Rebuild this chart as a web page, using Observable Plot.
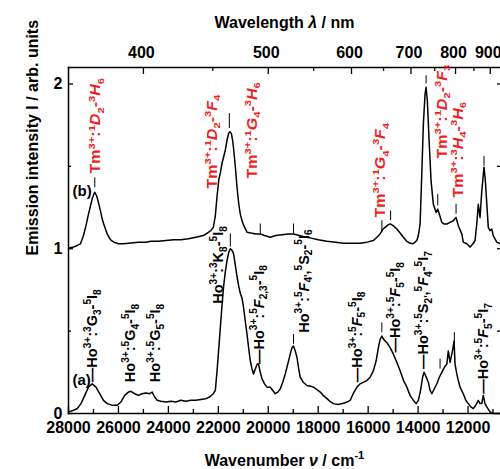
<!DOCTYPE html>
<html>
<head>
<meta charset="utf-8">
<script src="https://cdn.jsdelivr.net/npm/d3@7"></script>
<script src="https://cdn.jsdelivr.net/npm/@observablehq/plot@0.6"></script>
<style>
  html, body { margin: 0; padding: 0; background: #fff; overflow: hidden; }
  #chart { width: 500px; height: 469px; overflow: hidden; }
</style>
</head>
<body>
<div id="chart"></div>
<script>
// Spectrum (a): Ho3+ emission, [wavenumber cm-1, intensity]
const seriesA = [
  [28000,0.01],[27800,0.02],[27650,0.03],[27500,0.06],[27350,0.11],[27200,0.16],[27050,0.18],
  [26900,0.16],[26750,0.12],[26600,0.08],[26450,0.06],[26250,0.05],[26050,0.05],[25900,0.07],
  [25750,0.11],[25600,0.13],[25500,0.135],[25350,0.12],[25200,0.11],[25050,0.12],[24900,0.125],
  [24750,0.12],[24650,0.13],[24550,0.10],[24450,0.08],[24300,0.075],[24100,0.07],[23900,0.075],
  [23700,0.07],[23500,0.08],[23300,0.075],[23100,0.08],[22900,0.08],[22700,0.085],[22500,0.09],
  [22350,0.10],[22200,0.12],[22120,0.14],[22050,0.26],[21980,0.40],[21920,0.52],[21850,0.66],
  [21790,0.77],[21720,0.86],[21650,0.93],[21580,0.98],[21520,1.00],[21450,0.99],[21390,0.97],
  [21320,0.90],[21250,0.83],[21180,0.77],[21120,0.73],[21050,0.70],[20990,0.645],[20920,0.56],
  [20850,0.48],[20780,0.39],[20720,0.32],[20650,0.27],[20590,0.24],[20520,0.27],[20440,0.30],
  [20390,0.30],[20320,0.25],[20250,0.21],[20150,0.18],[20050,0.16],[19920,0.16],[19820,0.14],
  [19720,0.12],[19620,0.13],[19520,0.15],[19420,0.19],[19320,0.24],[19220,0.30],[19120,0.36],
  [19050,0.40],[18990,0.41],[18920,0.38],[18850,0.34],[18780,0.27],[18720,0.22],[18600,0.19],
  [18450,0.17],[18300,0.165],[18190,0.16],[18050,0.145],[17920,0.13],[17800,0.11],[17650,0.09],
  [17500,0.07],[17390,0.06],[17200,0.055],[16990,0.062],[16850,0.07],[16720,0.08],[16600,0.12],
  [16450,0.16],[16320,0.18],[16180,0.19],[16050,0.20],[15920,0.22],[15790,0.26],[15680,0.32],
  [15590,0.40],[15520,0.45],[15450,0.47],[15380,0.45],[15250,0.43],[15120,0.40],[14990,0.36],
  [14850,0.31],[14720,0.26],[14580,0.20],[14450,0.16],[14320,0.11],[14190,0.08],[14080,0.06],
  [13990,0.08],[13900,0.14],[13820,0.22],[13760,0.25],[13700,0.23],[13590,0.19],[13520,0.14],
  [13450,0.12],[13350,0.15],[13250,0.18],[13150,0.22],[13050,0.25],[12950,0.28],[12850,0.30],
  [12790,0.38],[12720,0.31],[12650,0.36],[12600,0.40],[12560,0.44],[12520,0.30],[12450,0.24],
  [12390,0.20],[12320,0.16],[12190,0.12],[12090,0.08],[11990,0.06],[11890,0.04],[11790,0.03],
  [11690,0.05],[11590,0.08],[11520,0.06],[11450,0.06],[11390,0.11],[11320,0.06],[11250,0.04],
  [11120,0.01],[11000,0.0],[10850,0.0],[10700,0.0]
];

// Spectrum (b): Tm3+ emission, offset by 1, [wavenumber cm-1, intensity]
const seriesB = [
  [28000,1.005],[27800,1.01],[27650,1.02],[27520,1.03],[27400,1.08],[27300,1.14],[27200,1.21],
  [27120,1.26],[27040,1.31],[26950,1.343],[26870,1.32],[26800,1.28],[26720,1.23],[26650,1.18],
  [26590,1.15],[26450,1.09],[26320,1.055],[26190,1.04],[26000,1.03],[25800,1.03],[25500,1.035],
  [25200,1.04],[24900,1.04],[24700,1.045],[24400,1.045],[24100,1.05],[23800,1.055],[23500,1.055],
  [23200,1.06],[22900,1.07],[22600,1.08],[22400,1.10],[22300,1.11],[22200,1.13],[22120,1.20],
  [22050,1.32],[21980,1.42],[21920,1.46],[21850,1.52],[21790,1.555],[21720,1.60],[21650,1.66],
  [21590,1.70],[21540,1.71],[21480,1.70],[21430,1.66],[21390,1.61],[21320,1.50],[21250,1.37],
  [21180,1.27],[21120,1.21],[21050,1.17],[20980,1.14],[20850,1.10],[20700,1.095],[20500,1.09],
  [20320,1.09],[20150,1.08],[19920,1.07],[19700,1.08],[19450,1.085],[19200,1.09],[18990,1.09],
  [18750,1.08],[18500,1.07],[18320,1.066],[18000,1.055],[17650,1.046],[17300,1.04],[16990,1.033],
  [16650,1.033],[16320,1.033],[16050,1.04],[15790,1.05],[15650,1.07],[15520,1.09],[15400,1.12],
  [15320,1.13],[15200,1.145],[15120,1.151],[15000,1.14],[14850,1.12],[14720,1.095],[14590,1.07],
  [14450,1.045],[14320,1.033],[14200,1.03],[14120,1.04],[14050,1.05],[13990,1.08],[13920,1.15],
  [13852,1.455],[13788,1.76],[13720,1.94],[13680,1.98],[13630,1.90],[13560,1.66],[13480,1.41],
  [13390,1.27],[13280,1.22],[13210,1.24],[13130,1.20],[13050,1.16],[12950,1.15],[12850,1.15],
  [12720,1.16],[12590,1.17],[12480,1.19],[12390,1.14],[12250,1.09],[12190,1.04],[12050,1.03],
  [11920,1.01],[11800,1.03],[11720,1.05],[11650,1.15],[11590,1.27],[11520,1.19],[11450,1.35],
  [11400,1.43],[11360,1.495],[11310,1.42],[11260,1.30],[11190,1.13],[11120,1.11],[11050,1.12],
  [10990,1.08],[10850,1.04],[10700,1.03]
];

// Red Tm3+ labels: markup text, wavenumber of baseline, intensity where text starts
const tmText = [
  "Tm^{3+}:^{1}*D*_{2}-^{3}*H*_{6}",
  "Tm^{3+}:^{1}*D*_{2}-^{3}*F*_{4}",
  "Tm^{3+}:^{1}*G*_{4}-^{3}*H*_{6}",
  "Tm^{3+}:^{1}*G*_{4}-^{3}*F*_{4}",
  "Tm^{3+}:^{1}*D*_{2}-^{3}*F*_{3}",
  "Tm^{3+}:^{3}*H*_{4}-^{3}*H*_{6}"
];
const tmNu = [26720, 22052, 20452, 15320, 12852, 12200];
const tmV  = [1.457, 1.366, 1.426, 1.19, 1.548, 1.311];

// Black Ho3+ labels
const hoText = [
  "—Ho^{3+}:^{3}G_{3}-^{5}I_{8}",
  "Ho^{3+}:^{5}G_{4}-^{5}I_{8}",
  "Ho^{3+}:^{5}G_{5}-^{5}I_{8}",
  "Ho^{3+}:^{3}K_{8}-^{5}I_{8}",
  "—Ho^{3+}:^{5}*F*_{2,3}-^{5}I_{8}",
  "Ho^{3+}:^{5}*F*_{4'},^{5}S_{2}-^{5}I_{6}",
  "—Ho^{3+}:^{5}*F*_{5}-^{5}I_{8}",
  "—Ho^{3+}:^{5}*F*_{5}-^{5}I_{8}",
  "—Ho^{3+}:^{5}S_{2'},^{5}*F*_{4}-^{5}I_{7}",
  "—Ho^{3+}:^{5}*F*_{5}-^{5}I_{7}"
];
const hoNu = [26852, 25320, 24320, 21800, 20188, 18388, 16252, 14720, 13588, 11188];
const hoV  = [0.19, 0.19, 0.19, 0.666, 0.30, 0.49, 0.19, 0.37, 0.27, 0.12];

// Short vertical peak markers: wavenumber, lower and upper intensity
const markNu = [26948, 21560, 20320, 18988, 15450, 15100, 13680, 13212, 12480, 11360,
                21520, 18988, 15452, 13120, 12548];
const markV1 = [1.37, 1.73, 1.09, 1.09, 1.10, 1.17, 2.00, 1.26, 1.21, 1.50,
                1.01, 0.42, 0.49, 0.27, 0.42];
const markV2 = [1.43, 1.82, 1.15, 1.15, 1.17, 1.23, 2.05, 1.33, 1.27, 1.56,
                1.09, 0.48, 0.55, 0.33, 0.49];

// Spectrum tags
const tagText = ["(a)", "(b)"];
const tagNu = [27840, 27840];
const tagV = [0.176, 1.323];

// Axes
const bottomMajor = [28000, 26000, 24000, 22000, 20000, 18000, 16000, 14000, 12000];
const bottomMinor = [27000, 25000, 23000, 21000, 19000, 17000, 15000, 13000, 11000];
const topMajorNm = [400, 500, 600, 700, 800, 900];
const topMinorNm = [450, 550, 650, 750, 850];
const yMajor = [0, 1, 2];
const yMinor = [0.5, 1.5];

const xTitle = "Wavenumber *ν* / cm^{-1}";
const x2Title = "Wavelength *λ* / nm";
const yTitle = "Emission intensity I / arb. units";

const W = 500, H = 469, mL = 68, mR = 0, mT = 67, mB = 56;
const pw = W - mL - mR, ph = H - mT - mB;
const RED = "#ee1f23";
const toNu = nm => 1e7 / nm;

const chart = Plot.plot({
  width: W, height: H,
  marginLeft: mL, marginRight: mR, marginTop: mT, marginBottom: mB,
  x: {domain: [28000, 10700]},
  y: {domain: [0, 2.1]},
  style: {fontFamily: "'Liberation Sans', Arial, Helvetica, sans-serif", fontSize: "16px", fontWeight: "bold", color: "#000", background: "#fff"},
  marks: [
    Plot.frame({anchor: "left", strokeWidth: 1.5}),
    Plot.frame({anchor: "top", strokeWidth: 1.5}),
    Plot.frame({anchor: "bottom", strokeWidth: 1.5}),
    // inward ticks
    Plot.tickX(bottomMajor, {x: d => d, insetTop: ph - 7, strokeWidth: 1.3}),
    Plot.tickX(bottomMinor, {x: d => d, insetTop: ph - 4, strokeWidth: 1.3}),
    Plot.tickX(topMajorNm, {x: toNu, insetBottom: ph - 7, strokeWidth: 1.3}),
    Plot.tickX(topMinorNm, {x: toNu, insetBottom: ph - 4, strokeWidth: 1.3}),
    Plot.tickY(yMajor, {y: d => d, insetRight: pw - 5, strokeWidth: 1.3}),
    Plot.tickY(yMinor, {y: d => d, insetRight: pw - 3, strokeWidth: 1.3}),
    Plot.tickY(yMajor.concat(yMinor), {y: d => d, insetLeft: pw - 3, strokeWidth: 1.3}),
    // tick labels
    Plot.axisX({anchor: "bottom", ticks: bottomMajor, tickSize: 0, tickPadding: 8, tickFormat: d => String(d), label: null, fontSize: 16, fontWeight: "bold"}),
    Plot.axisX({anchor: "top", ticks: topMajorNm.map(toNu), tickSize: 0, tickPadding: 10, dx: -2, tickFormat: d => String(Math.round(1e7 / d)), label: null, fontSize: 16, fontWeight: "bold"}),
    Plot.axisY({anchor: "left", ticks: yMajor, tickSize: 0, tickPadding: 6, tickFormat: d => String(d), label: null, fontSize: 16, fontWeight: "bold"}),
    // titles
    Plot.text([xTitle], {text: d => d, frameAnchor: "bottom", dy: 47, lineAnchor: "middle", fontSize: 16, fontWeight: "bold"}),
    Plot.text([x2Title], {text: d => d, frameAnchor: "top", dy: -45, lineAnchor: "middle", fontSize: 16, fontWeight: "bold"}),
    Plot.text([yTitle], {text: d => d, frameAnchor: "left", dx: -36, dy: 15, rotate: -90, lineAnchor: "middle", fontSize: 16, fontWeight: "bold"}),
    // spectra
    Plot.line(seriesA, {x: d => d[0], y: d => d[1], stroke: "#000", strokeWidth: 1.5, curve: "linear"}),
    Plot.line(seriesB, {x: d => d[0], y: d => d[1], stroke: "#000", strokeWidth: 1.5, curve: "linear"}),
    // peak markers
    Plot.ruleX(d3.range(markNu.length), {x: i => markNu[i], y1: i => markV1[i], y2: i => markV2[i], stroke: "#000", strokeWidth: 1}),
    // labels
    Plot.text(d3.range(tmText.length), {x: i => tmNu[i], y: i => tmV[i], text: i => tmText[i], rotate: -90, textAnchor: "start", lineAnchor: "bottom", fill: RED, fontSize: 16, fontWeight: "bold"}),
    Plot.text(d3.range(hoText.length), {x: i => hoNu[i], y: i => hoV[i], text: i => hoText[i], rotate: -90, textAnchor: "start", lineAnchor: "bottom", fill: "#000", fontSize: 14.5, fontWeight: "bold"}),
    Plot.text(d3.range(tagText.length), {x: i => tagNu[i], y: i => tagV[i], text: i => tagText[i], textAnchor: "start", lineAnchor: "bottom", fill: "#000", fontSize: 15, fontWeight: "bold"})
  ]
});

// Turn the small markup (^{..} superscript, _{..} subscript, *..* italic) into tspans
function richify(el) {
  const s = el.textContent;
  const base = parseFloat(getComputedStyle(el).fontSize) || 14;
  while (el.firstChild) el.removeChild(el.firstChild);
  const segs = [];
  let italic = false, buf = "", i = 0;
  const push = (str, kind) => { if (str) segs.push({str, kind, italic}); };
  while (i < s.length) {
    const c = s[i];
    if ((c === "^" || c === "_") && s[i + 1] === "{") {
      push(buf, "n"); buf = "";
      const j = s.indexOf("}", i);
      push(s.slice(i + 2, j), c === "^" ? "sup" : "sub");
      i = j + 1;
    } else if (c === "*") {
      push(buf, "n"); buf = ""; italic = !italic; i++;
    } else { buf += c; i++; }
  }
  push(buf, "n");
  let cur = 0;
  const ns = "http://www.w3.org/2000/svg";
  for (const seg of segs) {
    const t = document.createElementNS(ns, "tspan");
    const target = seg.kind === "sup" ? -0.42 * base : seg.kind === "sub" ? 0.24 * base : 0;
    const dy = target - cur; cur = target;
    if (dy) t.setAttribute("dy", dy.toFixed(2));
    if (seg.kind !== "n") t.setAttribute("font-size", (0.7 * base).toFixed(2));
    if (seg.italic) t.setAttribute("font-style", "italic");
    t.textContent = seg.str;
    el.appendChild(t);
  }
}

document.getElementById("chart").appendChild(chart);
d3.select(chart).selectAll("text").each(function () {
  if (/[\^_]\{|\*/.test(this.textContent)) richify(this);
  // red labels are slightly condensed across their lines, as in the reference
  if (this.parentNode.getAttribute("fill") === RED) {
    const tr = this.getAttribute("transform");
    if (tr) this.setAttribute("transform", tr + " scale(1,0.88)");
  }
});
</script>
</body>
</html>
